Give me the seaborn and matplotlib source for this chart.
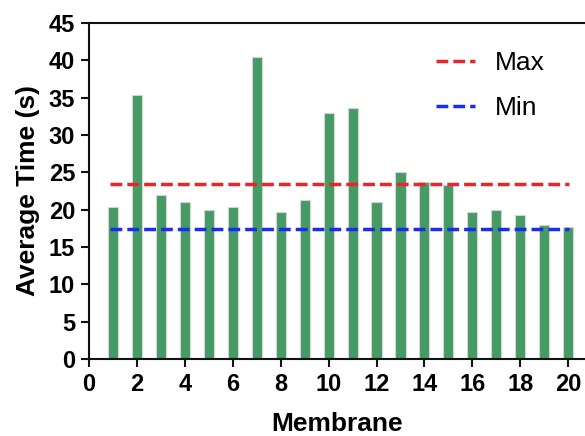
import numpy as np
import pandas as pd
import matplotlib
matplotlib.use("Agg")
import matplotlib.pyplot as plt
import seaborn as sns

membrane = list(range(1, 21))
avg_time = [20.3, 35.4, 22.0, 21.0, 20.0, 20.3, 40.4, 19.7, 21.3, 33.0,
            33.6, 21.0, 25.0, 23.7, 23.3, 19.7, 20.0, 19.3, 18.0, 17.7]
max_line = 23.4
min_line = 17.4

sns.set_style("ticks")
plt.rcParams['font.family'] = ['Liberation Sans', 'DejaVu Sans']
plt.rcParams['text.color'] = 'black'
plt.rcParams['axes.labelcolor'] = 'black'
plt.rcParams['xtick.color'] = 'black'
plt.rcParams['ytick.color'] = 'black'

df = pd.DataFrame({'Membrane': membrane, 'Time': avg_time})

fig = plt.figure(figsize=(5.85, 4.36), dpi=100)
ax = fig.add_axes([0.152, 0.177, 0.848, 0.770])

ax.bar(df['Membrane'], df['Time'], width=0.42, color='#469a64',
       edgecolor='#d4d4d4', linewidth=0.8, zorder=2)

dash = (0, (3.4, 1.45))
ax.hlines(max_line, 0.9, 20.05, colors='#e8262a', linestyles=dash,
          linewidth=2.5, label='Max', zorder=3)
ax.hlines(min_line, 0.9, 20.05, colors='#1a2cf0', linestyles=dash,
          linewidth=2.5, label='Min', zorder=3)

ax.set_xlim(0, 20.7)
ax.set_ylim(0, 45)
ax.set_xticks(np.arange(0, 21, 2))
ax.set_yticks(np.arange(0, 46, 5))

for side in ['left', 'bottom', 'top']:
    ax.spines[side].set_linewidth(1.5)
    ax.spines[side].set_color('#111111')
ax.spines['right'].set_visible(False)
ax.tick_params(axis='both', direction='out', width=1.5, length=6,
               labelsize=17, color='#111111', pad=4)
for lbl in ax.get_xticklabels() + ax.get_yticklabels():
    lbl.set_fontweight('bold')

ax.set_xlabel('Membrane', fontsize=19, fontweight='bold', labelpad=12)
ax.set_ylabel('Average Time (s)', fontsize=19, fontweight='bold', labelpad=6)

leg = ax.legend(loc='upper right', frameon=False, fontsize=19,
                handlelength=1.45, handletextpad=0.75, labelspacing=0.8,
                bbox_to_anchor=(0.966, 0.988))

plt.savefig('out.png', dpi=100)
